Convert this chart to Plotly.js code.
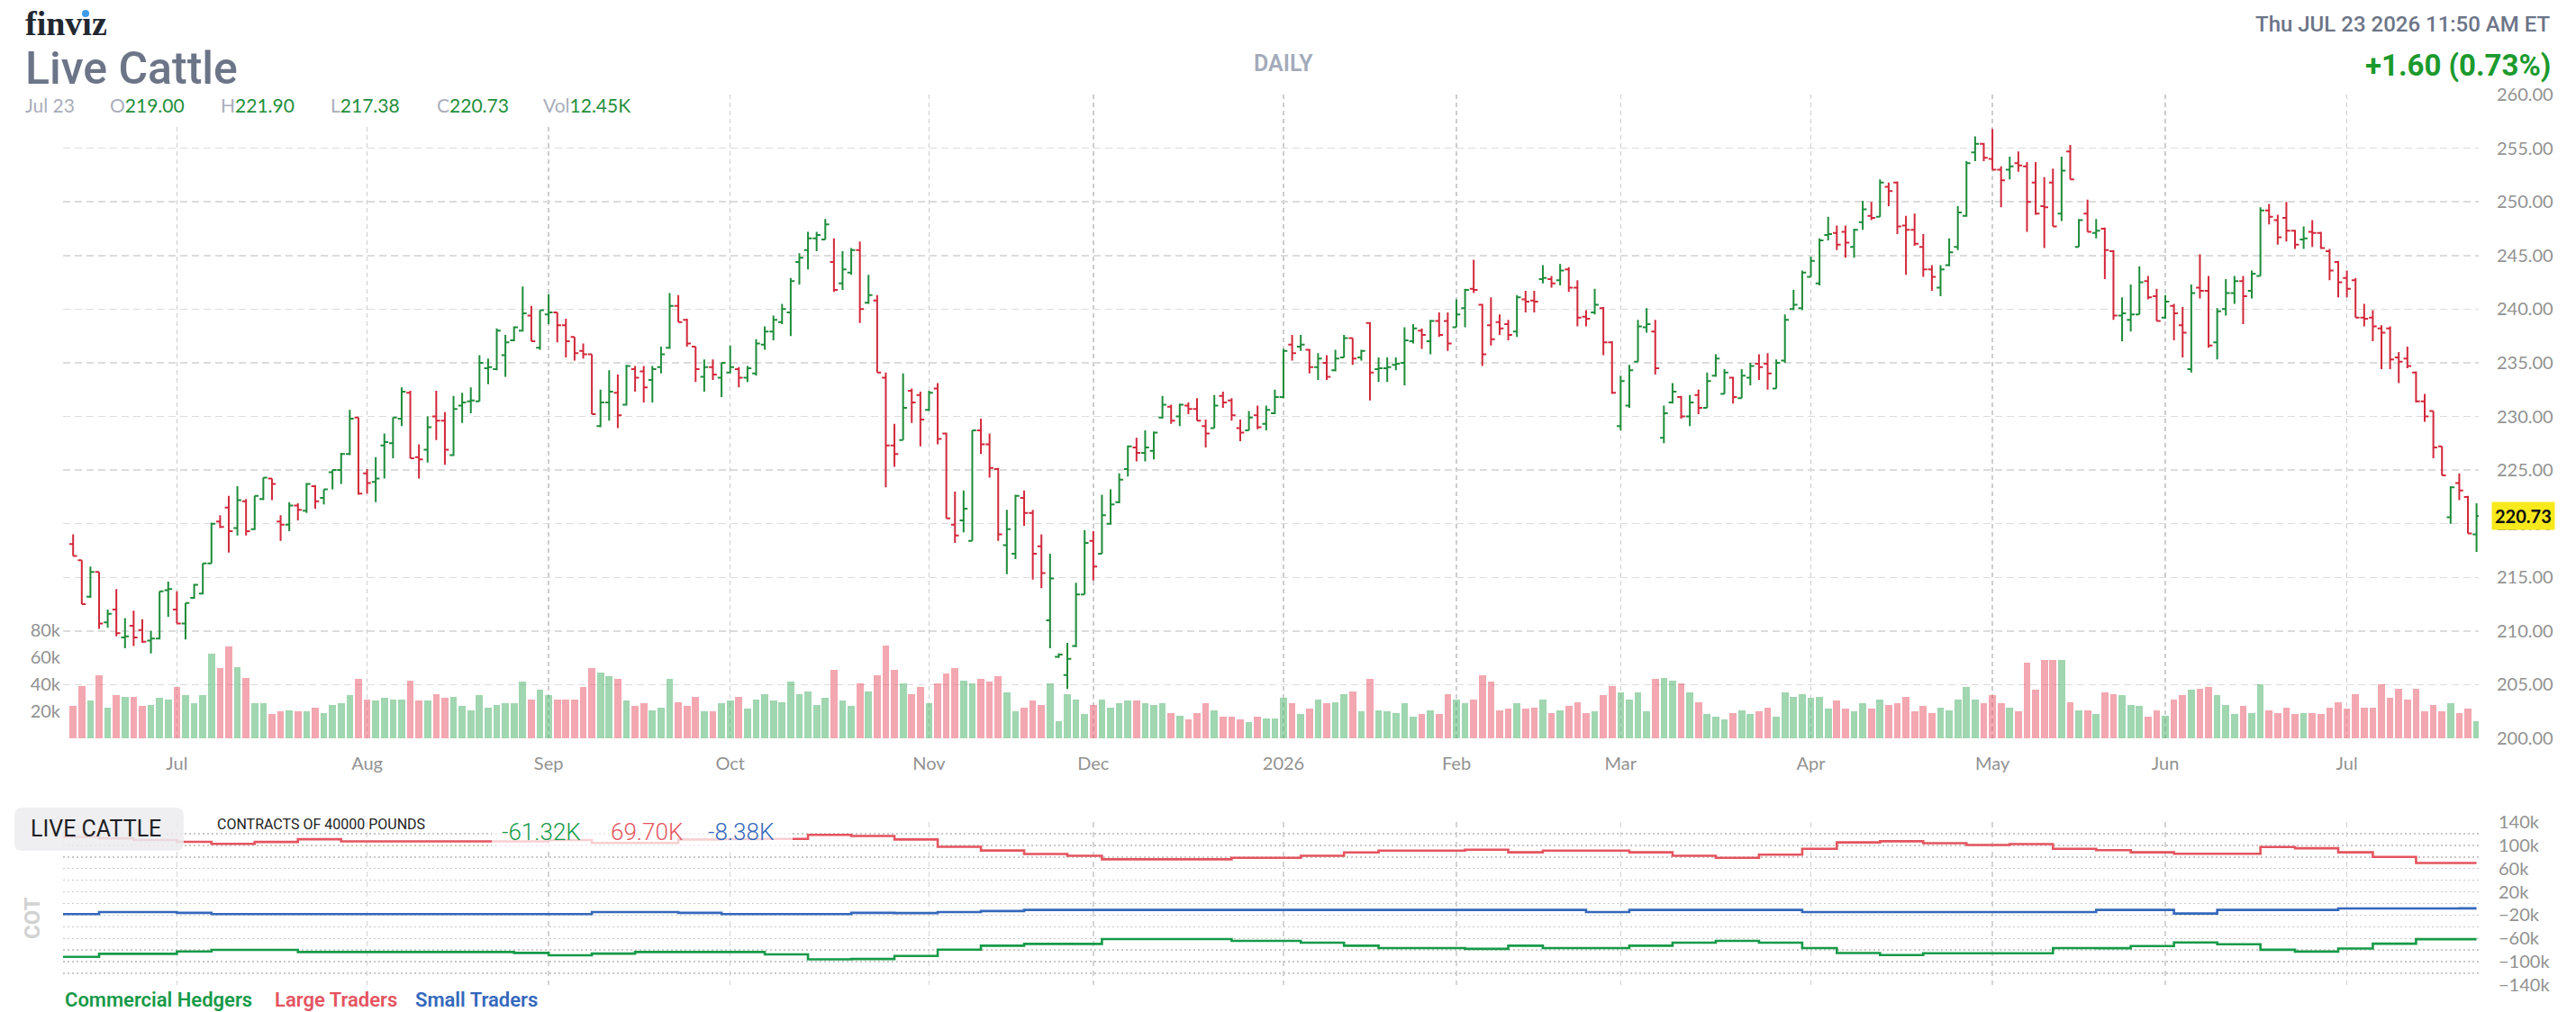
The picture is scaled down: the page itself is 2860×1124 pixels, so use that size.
<!DOCTYPE html>
<html><head><meta charset="utf-8">
<script src="https://cdn.plot.ly/plotly-3.0.1.min.js"></script>
<style>html,body{margin:0;padding:0;background:#fff;}#chart{width:2860px;height:1124px;}</style>
</head><body><div id="chart"></div>
<script>
// ---------- DATA ----------
const holidays = ['2025-06-19','2025-07-04','2025-09-01','2025-11-27','2025-12-25','2026-01-01','2026-01-19','2026-02-16','2026-04-03','2026-05-25','2026-06-19','2026-07-03'];
const firstDay = '2025-06-12';
const lastDay = '2026-07-23';

const openP = [218.1,216.6,213.2,215.5,210.8,212.0,209.4,210.5,210.1,209.1,
209.3,213.8,212.0,210.7,213.1,213.5,216.3,220.2,221.5,219.6,
222.1,219.5,222.3,224.2,220.2,219.9,221.7,221.2,223.5,222.4,
224.8,225.0,226.5,229.9,224.7,223.9,227.3,227.5,229.8,232.2,
226.2,226.9,230.0,229.6,226.4,231.0,231.4,231.4,234.5,234.4,
235.7,237.1,238.0,239.4,236.4,239.5,239.7,238.5,237.4,236.1,
235.8,229.1,231.3,232.2,231.1,234.4,234.2,233.4,234.6,236.4,
240.3,239.0,236.5,233.7,234.6,233.6,234.1,234.4,233.6,234.0,
236.7,237.9,238.8,239.7,244.4,245.5,246.6,246.5,244.4,242.4,
243.4,245.5,240.6,240.8,233.6,227.3,227.8,232.4,232.0,230.6,
232.6,228.4,219.9,220.3,218.4,228.7,227.4,225.1,218.0,217.2,
222.4,221.0,217.9,211.0,207.6,205.9,208.6,213.4,218.4,217.2,
220.0,222.0,225.1,227.1,226.6,226.8,229.9,230.9,230.0,231.0,
230.7,229.1,228.9,231.9,231.5,228.9,228.7,230.1,229.3,230.3,
231.8,236.7,236.5,236.2,234.6,235.0,234.3,235.5,237.3,235.5,
238.7,234.4,234.5,234.8,235.0,237.0,238.0,237.0,238.9,238.9,
238.3,240.1,241.9,240.4,238.5,238.8,238.6,237.9,240.9,240.8,
242.8,242.8,242.7,243.7,242.0,239.3,239.7,240.1,236.9,229.1,
231.0,235.1,238.3,237.9,228.0,231.3,231.8,230.0,232.0,230.8,
233.8,232.1,233.6,231.7,233.6,234.9,234.9,232.6,235.2,240.0,
240.1,243.0,242.4,246.9,247.1,247.2,245.8,248.1,248.7,248.6,
251.4,251.8,247.8,247.4,245.8,243.7,242.0,244.1,245.8,248.7,
254.6,255.4,254.0,253.0,253.0,253.6,253.3,251.8,249.6,251.8,
248.9,254.7,245.8,248.9,247.1,247.5,245.4,239.4,239.0,239.5,
242.6,241.2,239.2,240.3,238.5,234.4,242.0,241.7,236.9,240.0,
241.5,242.6,241.7,243.1,249.2,248.3,248.5,247.3,246.5,247.2,
247.1,245.4,244.4,242.9,242.7,239.2,239.2,238.2,238.2,235.5,
235.4,234.1,231.4,230.5,227.2,220.6,223.8,222.5,219.00];

const highP = [219.0,216.6,216.0,215.5,212.0,213.9,211.2,211.9,211.1,210.0,
213.7,214.6,213.7,212.6,214.4,216.3,220.1,220.8,222.6,223.5,
222.3,222.6,224.3,224.2,220.8,222.0,221.9,223.8,223.6,223.2,
225.0,226.6,230.6,229.9,225.1,226.2,228.4,229.9,232.7,232.4,
227.4,230.0,232.4,230.4,231.9,232.2,232.7,235.7,235.4,238.2,
237.6,238.4,242.1,240.3,239.9,241.4,239.7,239.1,237.4,236.8,
235.8,232.5,234.3,233.9,234.8,234.7,234.7,234.7,236.5,241.5,
241.3,239.1,236.5,235.3,235.3,235.0,236.6,234.6,234.7,237.2,
238.4,239.4,240.5,242.9,245.2,247.2,247.2,248.4,246.6,245.4,
245.7,246.3,243.2,241.3,234.1,229.3,234.0,232.6,232.3,232.4,
233.1,228.5,223.0,223.1,228.7,229.8,228.4,225.2,221.3,222.7,
223.1,221.3,219.0,217.2,207.9,208.9,214.5,219.4,219.3,222.7,
223.2,224.7,227.3,228.0,228.7,228.6,231.9,231.1,231.2,231.3,
231.7,229.7,232.0,232.3,231.7,229.7,230.5,231.0,231.0,232.5,
236.3,237.6,237.6,236.3,235.9,235.7,236.2,237.6,237.3,236.2,
238.8,235.5,235.5,235.5,238.3,238.6,238.2,239.0,239.7,239.7,
240.9,241.9,244.6,240.5,241.1,239.5,239.0,241.3,241.7,241.7,
244.1,243.1,244.2,243.9,242.7,239.9,241.9,240.2,237.0,233.8,
234.8,239.0,240.1,239.0,231.0,233.1,231.9,232.0,232.5,234.1,
235.8,234.4,233.7,234.4,235.0,235.8,235.9,235.3,239.5,241.8,
243.6,244.9,246.6,248.6,247.8,247.8,247.5,250.1,250.0,252.1,
251.8,251.9,248.7,248.9,247.0,244.1,244.1,246.6,249.6,253.8,
256.1,255.5,256.8,253.3,254.2,254.7,253.7,253.7,252.3,253.1,
254.2,255.3,248.4,250.2,248.4,247.6,245.5,241.1,242.3,244.0,
243.1,241.9,241.3,240.5,240.2,242.3,245.1,243.1,240.1,242.8,
243.1,243.1,243.6,249.5,249.8,248.8,250.0,247.4,247.7,248.3,
247.2,245.6,244.5,243.6,242.9,240.5,239.9,238.5,238.4,236.0,
236.5,234.2,232.1,230.5,227.2,223.5,224.7,222.6,221.90];

const lowP = [217.0,212.5,213.1,210.2,210.3,209.5,208.4,208.6,208.9,207.9,
209.2,211.3,210.7,209.2,213.0,213.4,216.3,219.6,217.3,218.9,
218.9,219.4,222.2,222.2,218.4,219.3,220.3,221.0,221.4,221.8,
223.2,223.7,226.4,222.7,222.8,222.0,224.2,226.1,229.1,226.1,
224.2,225.7,227.8,225.5,226.3,229.4,230.3,231.4,233.0,234.3,
233.7,237.0,237.9,237.0,236.2,238.6,236.9,235.5,235.2,235.4,
230.2,229.0,229.6,228.9,231.0,232.3,231.3,231.3,234.0,236.3,
238.8,236.5,233.2,232.3,233.4,231.8,234.0,232.7,233.2,233.8,
236.2,237.1,238.6,237.5,242.3,243.7,245.4,246.5,241.6,241.8,
243.2,238.7,240.5,234.1,223.4,225.3,227.8,229.4,227.2,230.5,
227.4,220.5,218.2,219.2,218.4,226.5,224.3,218.4,215.3,216.7,
219.8,214.8,214.0,208.4,207.5,204.6,208.5,213.4,214.7,217.2,
219.9,221.9,224.4,225.8,225.8,226.0,229.8,229.3,229.1,230.2,
229.6,227.1,228.9,230.8,229.6,227.7,228.7,228.8,228.7,230.2,
231.7,235.2,236.1,234.0,233.4,233.4,234.2,235.5,234.8,235.2,
231.5,233.2,233.2,234.3,232.9,236.8,236.3,235.8,237.4,236.1,
238.3,238.3,241.5,234.7,236.6,237.6,237.1,237.4,239.7,239.7,
242.4,242.0,242.2,241.6,238.4,238.4,239.5,235.7,232.1,228.7,
230.8,235.1,237.8,233.9,227.5,231.2,229.8,229.1,230.2,230.8,
233.7,232.1,231.2,231.7,232.9,233.4,232.5,232.6,235.0,239.9,
239.9,243.0,242.2,246.4,245.5,244.8,244.8,247.4,248.3,248.6,
249.6,247.0,243.2,245.9,243.0,241.7,241.2,244.0,245.5,248.6,
253.8,253.8,253.0,249.5,252.1,252.8,247.2,248.8,245.7,247.7,
248.2,252.1,245.8,247.2,246.6,242.8,239.0,237.0,237.9,239.5,
240.9,238.9,239.1,237.1,235.5,234.1,241.0,236.4,235.3,239.4,
240.5,238.6,241.0,243.1,247.9,246.0,246.3,245.6,245.6,245.8,
245.6,242.7,241.1,241.1,239.2,238.4,237.0,234.4,234.4,233.1,
234.5,231.3,229.5,226.1,224.5,220.0,222.2,219.1,217.38];

const closeP = [217.0,212.5,215.5,210.7,211.6,209.8,209.5,209.4,209.0,209.3,
213.7,213.9,210.7,212.6,214.3,216.3,220.0,219.7,219.3,222.2,
219.3,222.6,224.3,223.7,219.9,221.7,221.3,223.7,222.1,223.2,
225.0,226.5,229.8,222.8,223.8,224.2,227.6,229.9,232.3,226.1,
226.0,229.0,229.6,226.9,230.7,231.3,231.5,235.0,234.6,238.0,
236.9,238.3,239.6,237.0,239.9,239.7,238.5,237.0,235.9,235.8,
230.2,231.3,232.3,230.1,234.7,233.6,232.7,234.4,235.8,240.3,
238.8,236.8,234.4,234.6,233.9,235.0,234.6,233.6,234.5,236.8,
237.9,239.0,240.0,242.6,244.8,246.6,246.9,247.9,241.8,243.7,
245.5,240.0,241.3,234.1,227.3,226.5,230.8,231.3,229.7,232.2,
227.9,220.5,218.9,221.4,228.7,227.4,225.2,219.0,219.5,222.6,
221.0,217.2,215.4,214.9,207.8,207.4,213.4,218.2,216.0,220.8,
221.8,224.1,227.2,226.6,227.1,228.5,231.1,229.6,231.1,230.7,
229.6,228.4,231.0,231.3,230.1,228.5,229.9,229.0,230.6,231.8,
236.1,235.9,236.7,234.6,235.4,233.7,235.4,237.3,235.4,236.1,
234.1,234.5,234.6,234.9,237.1,238.2,237.6,238.9,237.6,236.8,
239.5,241.8,241.8,235.8,237.2,238.2,237.6,241.1,240.7,240.7,
242.9,242.4,243.6,242.0,239.2,239.1,240.4,236.9,232.2,233.3,
234.3,238.4,238.6,234.5,230.3,232.3,230.0,231.3,230.8,233.3,
235.4,234.1,231.8,233.8,234.7,234.6,234.0,235.0,239.0,240.4,
243.4,244.5,246.4,247.0,246.0,246.2,247.4,249.3,248.5,251.8,
251.0,247.7,247.4,246.1,243.7,243.0,243.7,245.3,249.0,253.6,
255.4,254.1,253.0,252.0,253.3,253.4,250.0,248.9,249.5,247.7,
252.9,252.1,248.3,247.2,247.3,245.5,239.4,239.6,239.5,242.5,
241.1,238.9,240.7,239.6,237.8,241.5,241.7,236.6,239.8,241.5,
242.6,241.2,243.3,249.2,248.6,246.7,247.3,246.0,246.6,247.1,
245.7,243.6,242.5,241.9,239.2,239.1,238.4,237.8,235.3,235.1,
234.7,231.4,230.0,227.1,224.5,223.4,223.1,219.1,220.73];

const volumeK = [24,39,28,47,23,32,31,31,24,25,
30,29,38,32,26,32,63,52,68,53,
45,26,26,18,20,21,20,20,23,19,
25,26,32,44,29,28,30,29,29,43,
28,28,33,30,31,24,21,32,23,25,
26,26,42,29,36,32,29,29,29,38,
52,49,46,44,28,24,26,21,23,44,
27,24,31,20,20,26,28,31,22,29,
33,28,27,42,33,35,25,30,51,28,
24,41,35,47,69,51,41,33,38,26,
41,48,52,43,41,44,42,46,34,20,
23,28,25,41,13,33,29,18,25,29,
23,26,28,28,26,25,26,19,17,14,
19,26,21,16,16,14,12,16,15,15,
30,26,18,22,29,26,27,33,35,20,
44,21,20,19,26,16,18,21,18,33,
29,26,29,47,42,21,22,26,22,23,
29,19,21,24,27,19,20,32,39,34,
29,34,20,44,45,43,41,34,27,18,
16,14,19,21,18,20,23,16,34,31,
33,30,31,22,28,22,20,26,22,29,
25,26,31,20,24,19,23,21,29,38,
29,26,32,26,23,20,56,36,58,58,
58,27,21,21,18,34,33,32,25,24,
16,21,17,29,32,36,37,38,32,25,
18,24,19,40,21,19,23,18,19,19,
18,23,27,22,33,23,23,40,30,37,
29,37,20,25,20,26,19,22,12.45];

const cotDates = ['2025-06-10','2025-06-17','2025-06-24','2025-07-01','2025-07-08','2025-07-15','2025-07-22','2025-07-29','2025-08-05','2025-08-12',
'2025-08-19','2025-08-26','2025-09-02','2025-09-09','2025-09-16','2025-09-23','2025-09-30','2025-10-07','2025-10-14','2025-10-21',
'2025-10-28','2025-11-04','2025-11-11','2025-11-18','2025-11-25','2025-12-02','2025-12-09','2025-12-16','2025-12-23','2025-12-30',
'2026-01-06','2026-01-13','2026-01-20','2026-01-27','2026-02-03','2026-02-10','2026-02-17','2026-02-24','2026-03-03','2026-03-10',
'2026-03-17','2026-03-24','2026-03-31','2026-04-07','2026-04-14','2026-04-21','2026-04-28','2026-05-05','2026-05-12','2026-05-19',
'2026-05-26','2026-06-02','2026-06-09','2026-06-16','2026-06-23','2026-06-30','2026-07-07','2026-07-14','2026-07-21','2026-07-23'];
const cotCommercialK = [-91.7,-86.5,-86.5,-82.3,-79.7,-79.7,-83.4,-83.4,-83.4,-83.4,
-83.4,-84.9,-89,-86,-83.4,-83.4,-83.4,-87.4,-96,-95.3,
-90,-79.2,-72.5,-69.4,-69.4,-61.1,-61.1,-61.1,-64.2,-64.2,
-67.3,-72.5,-76.6,-76.6,-78,-72.5,-76.6,-76.6,-72.5,-67.3,
-64.2,-67.3,-76.6,-85,-88.5,-85.4,-85.4,-85.4,-76.6,-76.8,
-73.2,-67,-70,-79.4,-82.5,-77.3,-69,-61.3,-61.32,-61.32];
const cotLargeK = [114.5,112,109,106,102.6,105.7,110.4,106.7,106.7,106.7,
106.7,106.7,109,104,104,110,110.5,111,118,116,
110,97.5,91,85,82,76,76,76,78.4,78.4,
82,87.7,90.8,90.8,92.5,88,90.8,90.8,88,82,
78.4,84,94,105,107,103.7,100.6,102,94,91.6,
88,85.4,85.4,97,95,88,80,69.7,69.7,69.7];
const cotSmallK = [-18.2,-14.6,-14.6,-16,-18.2,-18.2,-18.2,-18.2,-18.2,-18.2,
-18.2,-18.2,-18.2,-14.6,-14.6,-16,-18.2,-18.2,-18.2,-16,
-16.5,-14.6,-13,-11,-11,-11,-11,-11,-11,-11,
-11,-11,-11,-11,-11,-11,-11,-14.6,-11,-11,
-11,-11,-14.6,-14.6,-14.6,-14.6,-14.6,-14.6,-14.6,-11,
-11,-17.2,-11,-11,-11,-8.4,-8.4,-8.4,-8.38,-8.38];

const monthTickDates = ['2025-07-01','2025-08-01','2025-09-02','2025-10-01','2025-11-03','2025-12-01','2026-01-02','2026-02-02','2026-03-02','2026-04-01','2026-05-01','2026-06-01','2026-07-01'];
const monthTickText = ['Jul','Aug','Sep','Oct','Nov','Dec','2026','Feb','Mar','Apr','May','Jun','Jul'];
const priceTicks = [200,205,210,215,220,225,230,235,240,245,250,255,260];
const volTickVals = [20,40,60,80];
const volTickText = ['20k','40k','60k','80k'];
const cotTickVals = [-140,-120,-100,-80,-60,-40,-20,0,20,40,60,80,100,120,140];
const cotTickText = ['\u2212140k','','\u2212100k','','\u221260k','','\u221220k','','20k','','60k','','100k','','140k'];

// ---------- trading day calendar ----------
function tradingDays(start, end) {
  const out = [];
  const d = new Date(start + 'T00:00:00Z');
  const e = new Date(end + 'T00:00:00Z');
  while (d <= e) {
    const wd = d.getUTCDay();
    const s = d.toISOString().slice(0, 10);
    if (wd !== 0 && wd !== 6 && holidays.indexOf(s) < 0) out.push(s);
    d.setUTCDate(d.getUTCDate() + 1);
  }
  return out;
}
const dates = tradingDays(firstDay, lastDay);
const n = Math.min(dates.length, openP.length, highP.length, lowP.length, closeP.length, volumeK.length);
const X = dates.slice(0, n);

// ---------- colours ----------
const UP = '#1e8c3a', DOWN = '#d2283a';
const VUP = 'rgba(72,176,104,0.52)', VDOWN = 'rgba(232,86,104,0.52)';
const CG = '#169a48', CR = '#e4545f', CB = '#3468bc';
const AX = '#929292';

// ---------- pixel helpers for page decorations ----------
const W = 2860, H = 1124, ML = 70, MR = 108, MT = 105, MB = 30;
const PW = W - ML - MR, PH = H - MT - MB;
const px = x => (x - ML) / PW;
const py = y => (H - MB - y) / PH;

const volColors = X.map((_, i) => closeP[i] >= openP[i] ? VUP : VDOWN);

const traces = [
  { type: 'bar', x: X, y: volumeK.slice(0, n), xaxis: 'x', yaxis: 'y',
    marker: { color: volColors, line: { width: 0 } }, width: 0.8 * 86400000, hoverinfo: 'skip' },
  { type: 'ohlc', x: X, open: openP.slice(0, n), high: highP.slice(0, n), low: lowP.slice(0, n), close: closeP.slice(0, n),
    xaxis: 'x', yaxis: 'y2', tickwidth: 0.45,
    increasing: { line: { color: UP, width: 2 } }, decreasing: { line: { color: DOWN, width: 2 } }, hoverinfo: 'skip' },
  { type: 'scatter', mode: 'lines', x: cotDates, y: cotLargeK, xaxis: 'x2', yaxis: 'y3', line: { color: CR, width: 2.6, shape: 'hv' }, hoverinfo: 'skip' },
  { type: 'scatter', mode: 'lines', x: cotDates, y: cotSmallK, xaxis: 'x2', yaxis: 'y3', line: { color: CB, width: 2.6, shape: 'hv' }, hoverinfo: 'skip' },
  { type: 'scatter', mode: 'lines', x: cotDates, y: cotCommercialK, xaxis: 'x2', yaxis: 'y3', line: { color: CG, width: 2.6, shape: 'hv' }, hoverinfo: 'skip' }
];

const rb = [{ bounds: ['sat', 'mon'] }, { values: holidays }];
const xRange = ['2025-06-10 20:00', '2026-07-23 06:00'];
const tickFont = { family: 'Lato, sans-serif', size: 20, color: AX };

const mainBottom = py(820);
const cotTop = py(913);

function roundRect(x0, y0, x1, y1, r) {
  const P = (x, y) => px(x) + ',' + py(y);
  return 'M' + P(x0 + r, y0) + ' L' + P(x1 - r, y0) + ' Q' + P(x1, y0) + ' ' + P(x1, y0 + r) +
    ' L' + P(x1, y1 - r) + ' Q' + P(x1, y1) + ' ' + P(x1 - r, y1) +
    ' L' + P(x0 + r, y1) + ' Q' + P(x0, y1) + ' ' + P(x0, y1 - r) +
    ' L' + P(x0, y0 + r) + ' Q' + P(x0, y0) + ' ' + P(x0 + r, y0) + ' Z';
}

const hdr = (x, y, html, size, color, anchor, family, weight) => ({
  xref: 'paper', yref: 'paper', x: px(x), y: py(y), text: html, showarrow: false,
  xanchor: anchor || 'left', yanchor: 'middle',
  font: { family: family || 'Roboto, sans-serif', size: size, color: color, weight: weight || 400 }
});

const GL = '#a9aebb', GV = '#1f8f3c';
const ohlcLbl = (lab, val) => '<span style="color:' + GL + '">' + lab + '</span><span style="color:' + GV + '">' + val + '</span>';

const annotations = [
  hdr(26, 26, 'finv\u0131z', 38, '#222831', 'left', 'Liberation Serif, serif', 700),
  hdr(26, 76, 'Live Cattle', 50, '#6c7588', 'left', 'Roboto, sans-serif', 500),
  hdr(1425, 71, 'DAILY', 25, '#a3abba', 'center', 'Roboto, sans-serif', 600),
  hdr(2834, 27, 'Thu JUL 23 2026 11:50 AM ET', 24, '#6c7588', 'right', 'Roboto, sans-serif', 500),
  hdr(2834, 72, '+1.60 (0.73%)', 33, '#1c9a2e', 'right', 'Roboto, sans-serif', 700),
  hdr(26, 116, 'Jul 23', 21, GL, 'left', 'Lato, sans-serif'),
  hdr(120, 116, ohlcLbl('O', '219.00'), 21, GV, 'left', 'Lato, sans-serif'),
  hdr(243, 116, ohlcLbl('H', '221.90'), 21, GV, 'left', 'Lato, sans-serif'),
  hdr(365, 116, ohlcLbl('L', '217.38'), 21, GV, 'left', 'Lato, sans-serif'),
  hdr(483, 116, ohlcLbl('C', '220.73'), 21, GV, 'left', 'Lato, sans-serif'),
  hdr(601, 116, ohlcLbl('Vol', '12.45K'), 21, GV, 'left', 'Lato, sans-serif'),
  { xref: 'paper', yref: 'y2', x: px(2766), y: closeP[n - 1], text: '<b>' + closeP[n - 1].toFixed(2) + '</b>', showarrow: false,
    xanchor: 'left', yanchor: 'middle', bgcolor: '#f7e91c', borderpad: 3,
    font: { family: 'Lato, sans-serif', size: 20, color: '#111' } },
  hdr(32, 921, 'LIVE CATTLE', 25, '#1e1e24', 'left', 'Roboto, sans-serif', 400),
  hdr(239, 915, 'CONTRACTS OF 40000 POUNDS', 16, '#222', 'left', 'Roboto, sans-serif', 400),
  hdr(555, 924, cotCommercialK[cotCommercialK.length - 1].toFixed(2) + 'K', 26, CG, 'left', 'Roboto, sans-serif', 300),
  hdr(676, 924, cotLargeK[cotLargeK.length - 1].toFixed(2) + 'K', 26, CR, 'left', 'Roboto, sans-serif', 300),
  hdr(784, 924, cotSmallK[cotSmallK.length - 1].toFixed(2) + 'K', 26, CB, 'left', 'Roboto, sans-serif', 300),
  Object.assign(hdr(36, 1020, 'COT', 24, '#d2d2d2', 'center', 'Roboto, sans-serif', 700), { textangle: -90 }),
  hdr(70, 1110, 'Commercial Hedgers', 22, CG, 'left', 'Roboto, sans-serif', 600),
  hdr(303, 1110, 'Large Traders', 22, CR, 'left', 'Roboto, sans-serif', 600),
  hdr(459, 1110, 'Small Traders', 22, CB, 'left', 'Roboto, sans-serif', 600)
];

const shapes = [
  { type: 'rect', xref: 'paper', yref: 'paper', x0: px(18), x1: px(716), y0: py(137), y1: py(96), fillcolor: '#ffffff', line: { width: 0 }, layer: 'above' },
  { type: 'circle', xref: 'paper', yref: 'paper', x0: px(91), x1: px(99), y0: py(19), y1: py(11), fillcolor: '#3d9be9', line: { width: 0 }, layer: 'above' },
  { type: 'path', xref: 'paper', yref: 'paper', path: roundRect(16, 897, 204, 945, 9), fillcolor: 'rgba(236,236,240,0.86)', line: { width: 0 }, layer: 'above' },
  { type: 'rect', xref: 'paper', yref: 'paper', x0: px(546), x1: px(880), y0: py(946), y1: py(902), fillcolor: 'rgba(255,255,255,0.72)', line: { width: 0 }, layer: 'above' }
];

const layout = {
  width: W, height: H,
  margin: { l: ML, r: MR, t: MT, b: MB, pad: 0 },
  paper_bgcolor: '#fff', plot_bgcolor: '#fff',
  showlegend: false, hovermode: false, bargap: 0,
  font: { family: 'Lato, sans-serif', color: AX },
  xaxis: {
    type: 'date', anchor: 'y', domain: [0, 1], range: xRange, rangebreaks: rb,
    tickmode: 'array', tickvals: monthTickDates, ticktext: monthTickText,
    showgrid: true, gridcolor: '#cdcdcd', griddash: '5px,4px', gridwidth: 1.5,
    ticks: '', showline: false, zeroline: false, tickfont: tickFont, ticklabelstandoff: 14,
    rangeslider: { visible: false }, fixedrange: true
  },
  xaxis2: {
    type: 'date', anchor: 'y3', domain: [0, 1], range: xRange, rangebreaks: rb, matches: 'x',
    tickmode: 'array', tickvals: monthTickDates, showticklabels: false,
    showgrid: true, gridcolor: '#d4d4d4', griddash: '6px,5px', gridwidth: 1.5,
    ticks: '', showline: false, zeroline: false, rangeslider: { visible: false }
  },
  yaxis: {
    domain: [mainBottom, 1], anchor: 'x', range: [0, 477], side: 'left',
    tickmode: 'array', tickvals: volTickVals, ticktext: volTickText,
    showgrid: false, zeroline: false, showline: false, ticks: '', tickfont: tickFont, ticklabelstandoff: 2
  },
  yaxis2: {
    overlaying: 'y', anchor: 'x', side: 'right', range: [200, 260],
    tickmode: 'array', tickvals: priceTicks, ticktext: priceTicks.map(v => v.toFixed(2)),
    showgrid: true, gridcolor: '#dcdcdc', griddash: '8px,5px', gridwidth: 1.5,
    zeroline: false, showline: false, ticks: '', tickfont: tickFont, ticklabelstandoff: 19
  },
  yaxis3: {
    domain: [0, cotTop], anchor: 'x2', side: 'right', range: [-140, 140],
    tickmode: 'array', tickvals: cotTickVals, ticktext: cotTickText,
    showgrid: true, gridcolor: '#c9c9c9', griddash: '2px,3px', gridwidth: 1.5,
    zeroline: false, showline: false, ticks: '', tickfont: tickFont, ticklabelstandoff: 21
  },
  annotations: annotations,
  shapes: shapes
};

Plotly.newPlot('chart', traces, layout, { staticPlot: true, displayModeBar: false });
</script>
</body></html>
